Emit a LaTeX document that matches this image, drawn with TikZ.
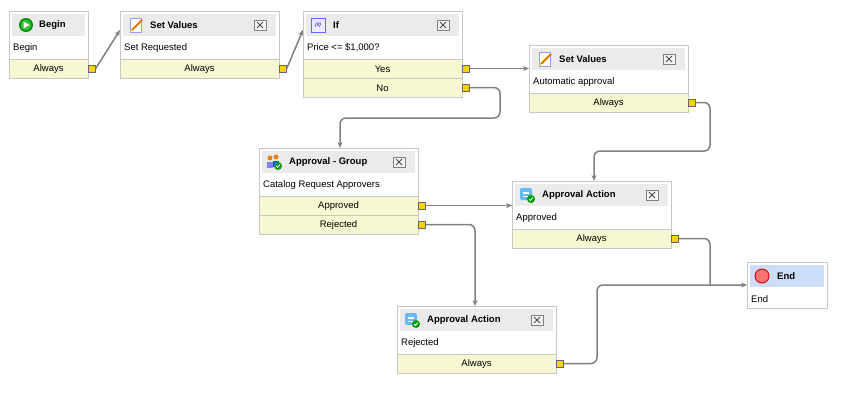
\documentclass[tikz,border=0pt]{standalone}
\usepackage{fontspec}
\setmainfont{Liberation Sans}
\usetikzlibrary{arrows.meta}
\definecolor{hdr}{HTML}{EBEBEB}
\definecolor{rowc}{HTML}{F7F7D2}
\definecolor{brd}{HTML}{C8C8C8}
\definecolor{portc}{HTML}{F5D30C}
\definecolor{wire}{HTML}{808080}
\definecolor{endh}{HTML}{CCDDFA}
\tikzset{
 x=1pt,y=-1pt,
 box/.style={draw=brd,fill=white,line width=0.8pt},
 hd/.style={fill=hdr,draw=none},
 ttl/.style={font=\fontsize{9.5}{11}\selectfont\bfseries,anchor=west,inner sep=0},
 txt/.style={font=\fontsize{9.5}{11}\selectfont,anchor=west,inner sep=0},
 rowl/.style={font=\fontsize{9.5}{11}\selectfont,inner sep=0},
 port/.style={draw=black!60,fill=portc,minimum size=7pt,inner sep=0,line width=0.5pt},
 wirel/.style={draw=wire,line width=1.5pt,rounded corners=6pt},
 arr/.style={-{Stealth[length=6pt,width=5pt]}},
}
\newcommand\wfbox[9]{%
 \path[box] (#2,#3) rectangle ({#2+#4},{#3+#5});
 \node[name=#1,inner sep=0,minimum width=#4pt,minimum height=#5pt,anchor=north west] at (#2,#3) {};
 \fill[#6] ({#2+3},{#3+3}) rectangle ({#2+#4-3},{#3+25});
 \node[ttl] (#1t) at ({#2+30},{#3+14}) {#7};
 \node[txt] (#1b) at ({#2+4},{#3+37}) {#8};
 \ifx#9y
  \draw[black!50,fill=hdr!60,line width=0.6pt] ({#2+#4-25},{#3+9}) rectangle ({#2+#4-13},{#3+19});
  \draw[black!70,line width=1pt] ({#2+#4-22},{#3+11}) -- ({#2+#4-16},{#3+17}) ({#2+#4-22},{#3+17}) -- ({#2+#4-16},{#3+11});
 \fi
}
\newcommand\wfrow[5]{%
 \path[draw=brd,fill=rowc,line width=0.8pt] (#2,#3) rectangle ({#2+#4},{#3+19});
 \node[rowl] (#1l) at ({#2+#4/2},{#3+10}) {#5};
 \node[port] (#1) at ({#2+#4+4},{#3+9.5}) {};
}
\newcommand\icBegin[2]{\fill[green!55!black] (#1,#2) circle (7); \fill[green!70!black!80] (#1,#2) circle (5.5);
 \fill[white] ({#1-2.5},{#2-3.5}) -- ({#1+3.5},{#2}) -- ({#1-2.5},{#2+3.5}) -- cycle;}
\newcommand\icEdit[2]{\draw[blue!40,fill=white] ({#1-6},{#2-7}) rectangle ({#1+5},{#2+7});
 \draw[orange!90!black,line width=2pt] ({#1-4},{#2+5}) -- ({#1+6},{#2-5}); \fill[yellow!80!orange] ({#1-5},{#2+6}) circle (1);}
\newcommand\icIf[2]{\draw[blue!60,fill=blue!8] ({#1-7},{#2-7}) rectangle ({#1+7},{#2+7});
 \node[inner sep=0,font=\fontsize{5}{5}\selectfont\itshape,text=blue!70!black] at (#1,#2) {\{if\}};}
\newcommand\icAppr[2]{\fill[blue!45!cyan!60,rounded corners=2pt] ({#1-7},{#2-7}) rectangle ({#1+5},{#2+5});
 \fill[white] ({#1-4},{#2-3}) rectangle ({#1+2},{#2-1}); \fill[white] ({#1-4},{#2+1}) rectangle ({#1+1},{#2+2});
 \fill[green!60!black] ({#1+4},{#2+4}) circle (4); \draw[white,line width=0.8pt] ({#1+2},{#2+4}) -- ({#1+3.5},{#2+5.5}) -- ({#1+6},{#2+2.5});}
\newcommand\icGroup[2]{\fill[orange!70!brown] ({#1-4},{#2-4}) circle (2.5); \fill[blue!50] ({#1-7},{#2+6}) rectangle ({#1-1},{#2});
 \fill[orange!70!brown] ({#1+2},{#2-5}) circle (2.5); \fill[blue!60!cyan] ({#1-1},{#2+5}) rectangle ({#1+5},{#2-1});
 \fill[green!60!black] ({#1+4},{#2+4}) circle (4); \draw[white,line width=0.8pt] ({#1+2},{#2+4}) -- ({#1+3.5},{#2+5.5}) -- ({#1+6},{#2+2.5});}
\newcommand\icEnd[2]{\fill[red!80!black] (#1,#2) circle (7.5); \fill[red!55] (#1,#2) circle (6.5);}
\begin{document}
\begin{tikzpicture}
\useasboundingbox[fill=white] (0,0) rectangle (852,410);
\wfbox{b1}{9}{11}{79}{67}{hd}{Begin}{Begin}{n}
\icBegin{26}{25}
\wfrow{r1}{9}{59}{79}{Always}
\wfbox{b2}{120}{11}{159}{67}{hd}{Set Values}{Set Requested}{y}
\icEdit{136}{25}
\wfrow{r2}{120}{59}{159}{Always}
\wfbox{b3}{303}{11}{159}{86}{hd}{If}{Price <= \$1,000?}{y}
\icIf{318}{25}
\wfrow{r3a}{303}{59}{159}{Yes}
\wfrow{r3b}{303}{78}{159}{No}
\wfbox{b4}{529}{45}{159}{67}{hd}{Set Values}{Automatic approval}{y}
\icEdit{545}{59}
\wfrow{r4}{529}{93}{159}{Always}
\wfbox{b5}{259}{148}{159}{86}{hd}{Approval - Group}{Catalog Request Approvers}{y}
\icGroup{274}{162}
\wfrow{r5a}{259}{196}{159}{Approved}
\wfrow{r5b}{259}{215}{159}{Rejected}
\wfbox{b6}{512}{181}{159}{67}{hd}{Approval Action}{Approved}{y}
\icAppr{527}{195}
\wfrow{r6}{512}{229}{159}{Always}
\wfbox{b7}{747}{262}{80}{46}{fill=endh}{End}{End}{n}
\icEnd{762}{276}
\wfbox{b8}{397}{306}{159}{67}{hd}{Approval Action}{Rejected}{y}
\icAppr{412}{320}
\wfrow{r8}{397}{354}{159}{Always}
\coordinate (e2) at (120,30);
\coordinate (e3) at (303,30);
\draw[wirel,arr] (r1.east) -- (e2);
\draw[wirel,arr] (r2.east) -- (e3);
\draw[wirel,arr] (r3a.east) -- (b4.west|-r3a);
\draw[wirel,arr] (r3b.east) -- (500,87.5) -- (500,118) -- (340,118) -- (340,148);
\draw[wirel,arr] (r4.east) -- (710,102.5) -- (710,151) -- (594,151) -- (594,181);
\draw[wirel,arr] (r5a.east) -- (b6.west|-r5a);
\draw[wirel,arr] (r5b.east) -- (475,224.5) -- (475,306);
\draw[wirel] (r6.east) -- (710,238.5) -- (710,285);
\draw[wirel,arr] (r8.east) -- (597,363.5) -- (597,285) -- (747,285);
\end{tikzpicture}
\end{document}
